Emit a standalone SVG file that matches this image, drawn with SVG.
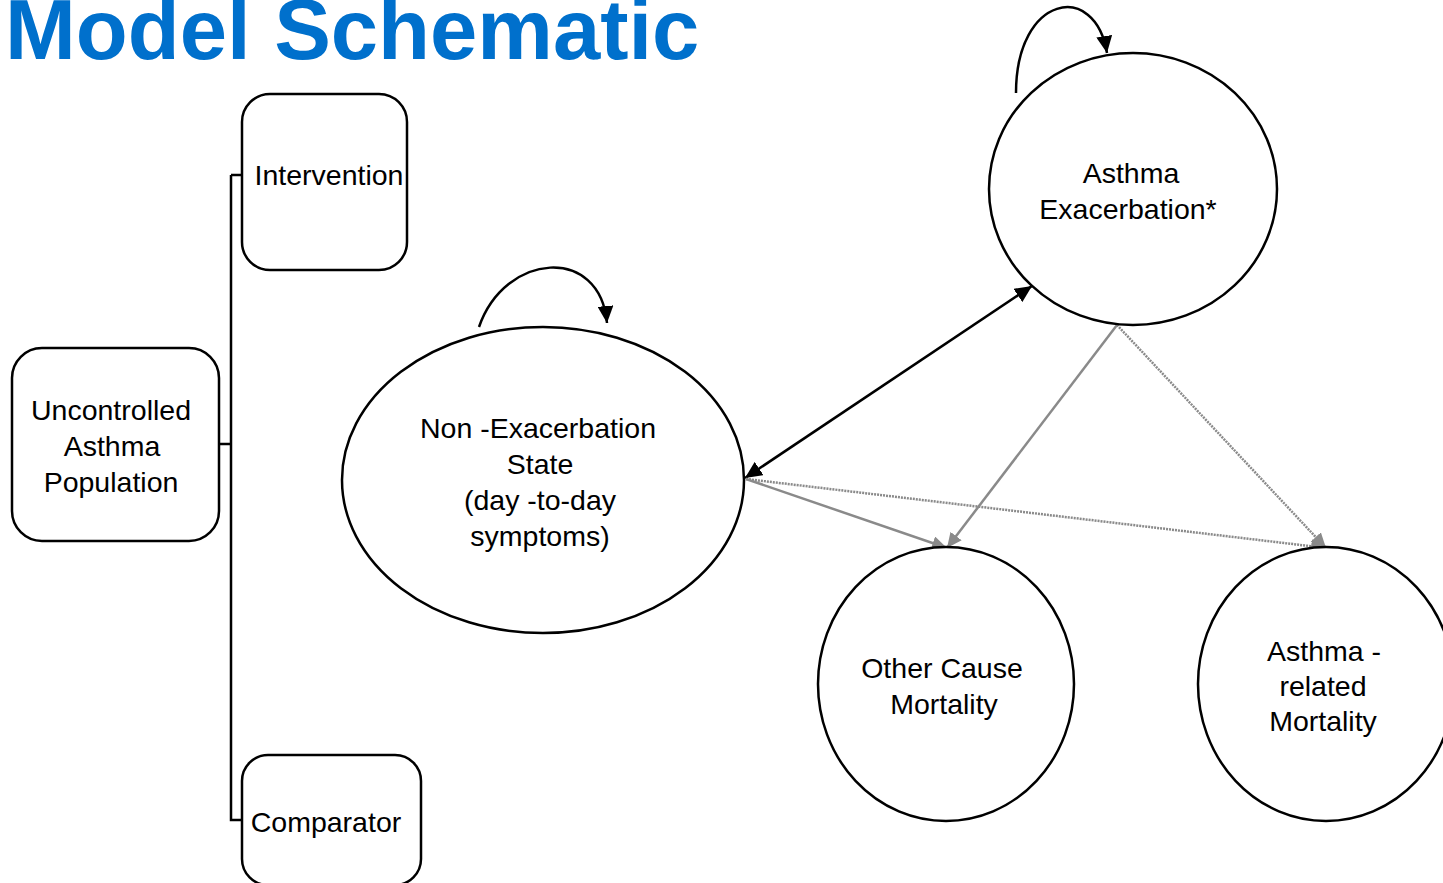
<svg xmlns="http://www.w3.org/2000/svg" width="1443" height="883" viewBox="0 0 1443 883">
<style>
.box{fill:#fff;stroke:#000;stroke-width:2.5}
.lbl{font-family:"Liberation Sans",Arial,sans-serif;font-size:28.5px;fill:#000;text-anchor:middle}
.blk{fill:none;stroke:#000;stroke-width:2.5}
.gry{fill:none;stroke:#8a8a8a;stroke-width:2.5}
.dot{fill:none;stroke:#8a8a8a;stroke-width:2.5;stroke-dasharray:2 1}
.title{font-family:"Liberation Sans",Arial,sans-serif;font-size:85px;font-weight:bold;fill:#0070CC}
</style>
<defs>
<marker id="ab" markerUnits="userSpaceOnUse" markerWidth="18" markerHeight="16" refX="17" refY="8" orient="auto-start-reverse" viewBox="0 0 18 16">
<path d="M0,0 L17,8 L0,16 z" fill="#000"/>
</marker>
<marker id="ag" markerUnits="userSpaceOnUse" markerWidth="16" markerHeight="14" refX="15" refY="7" orient="auto" viewBox="0 0 16 14">
<path d="M0,0 L15,7 L0,14 z" fill="#8a8a8a"/>
</marker>
</defs>
<rect width="1443" height="883" fill="#fff"/>
<text class="title" x="5" y="59">Model Schematic</text>

<g id="connectors">
<path class="blk" d="M231,175 H242 M231,175 V820 H242 M219,444 H231"/>
<path class="blk" d="M745,478 L1032,286" marker-start="url(#ab)" marker-end="url(#ab)"/>
<path class="gry" d="M746,479 L947,548" marker-end="url(#ag)"/>
<path class="dot" d="M746,479 L1326,548" marker-end="url(#ag)"/>
<path class="gry" d="M1117,325 L947,548" marker-end="url(#ag)"/>
<path class="dot" d="M1117,325 L1326,548" marker-end="url(#ag)"/>
<path class="blk" d="M479,327 C505,252 600,245 607,323" marker-end="url(#ab)"/>
<path class="blk" d="M1016,93 C1016,-5 1095,-20 1107,53" marker-end="url(#ab)"/>
</g>

<g id="population">
<rect class="box" x="12" y="348" width="207" height="193" rx="30"/>
<text class="lbl" x="111" y="420">Uncontrolled</text>
<text class="lbl" x="112" y="456">Asthma</text>
<text class="lbl" x="111" y="492">Population</text>
</g>
<g id="intervention">
<rect class="box" x="242" y="94" width="165" height="176" rx="28"/>
<text class="lbl" x="329" y="185">Intervention</text>
</g>
<g id="comparator">
<rect class="box" x="242" y="755" width="179" height="130" rx="26"/>
<text class="lbl" x="326" y="832">Comparator</text>
</g>
<g id="non-exacerbation">
<ellipse class="box" cx="543" cy="480" rx="201" ry="153"/>
<text class="lbl" x="538" y="438">Non -Exacerbation</text>
<text class="lbl" x="540" y="474">State</text>
<text class="lbl" x="540" y="510">(day -to-day</text>
<text class="lbl" x="540" y="546">symptoms)</text>
</g>
<g id="exacerbation">
<ellipse class="box" cx="1133" cy="189" rx="144" ry="136"/>
<text class="lbl" x="1131" y="183">Asthma</text>
<text class="lbl" x="1128" y="219">Exacerbation*</text>
</g>
<g id="other-mortality">
<ellipse class="box" cx="946" cy="684" rx="128" ry="137"/>
<text class="lbl" x="942" y="678">Other Cause</text>
<text class="lbl" x="944" y="714">Mortality</text>
</g>
<g id="asthma-mortality">
<ellipse class="box" cx="1326" cy="684" rx="128" ry="137"/>
<text class="lbl" x="1324" y="661">Asthma -</text>
<text class="lbl" x="1323" y="696">related</text>
<text class="lbl" x="1323" y="731">Mortality</text>
</g>
</svg>
